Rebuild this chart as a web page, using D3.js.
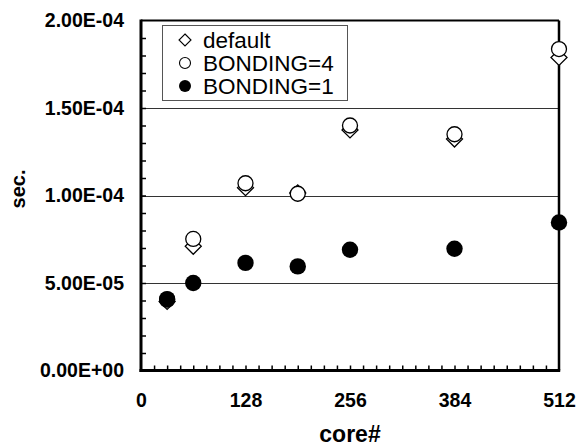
<!DOCTYPE html>
<html>
<head>
<meta charset="utf-8">
<script src="https://cdn.jsdelivr.net/npm/d3@7"></script>
<style>
  body { margin: 0; background: #fff; }
  svg { display: block; font-family: "Liberation Sans", Arial, sans-serif; }
</style>
</head>
<body>
<div class="chart"></div>
<script>
// data
const cores = [32, 64, 128, 192, 256, 384, 512];
const defaultTime = [3.95e-5, 7.1e-5, 1.045e-4, 1.015e-4, 1.375e-4, 1.323e-4, 1.789e-4];
const bonding4Time = [4.05e-5, 7.52e-5, 1.07e-4, 1.01e-4, 1.40e-4, 1.35e-4, 1.837e-4];
const bonding1Time = [4.08e-5, 5.0e-5, 6.15e-5, 5.95e-5, 6.9e-5, 6.96e-5, 8.46e-5];
const xTicks = [0, 128, 256, 384, 512];
const yTicks = [0, 5e-5, 1e-4, 1.5e-4, 2e-4];
const yTickLabels = ["0.00E+00", "5.00E-05", "1.00E-04", "1.50E-04", "2.00E-04"];
const seriesNames = ["default", "BONDING=4", "BONDING=1"];

const width = 579,
  height = 446;
const plotLeft = 141,
  plotRight = 559,
  plotTop = 20.5,
  plotBottom = 370.5;

const svg = d3
  .select(".chart")
  .append("svg")
  .attr("width", width)
  .attr("height", height);

const x = d3.scaleLinear().domain([0, 512]).range([plotLeft, plotRight]);
const y = d3.scaleLinear().domain([0, 2e-4]).range([plotBottom, plotTop]);

// gridlines
svg
  .append("g")
  .selectAll("line")
  .data(yTicks.slice(1, 4))
  .enter()
  .append("line")
  .attr("x1", plotLeft)
  .attr("x2", plotRight)
  .attr("y1", (d) => Math.round(y(d)) + 0.5)
  .attr("y2", (d) => Math.round(y(d)) + 0.5)
  .attr("stroke", "#333")
  .attr("stroke-width", 1);

// top and right border
svg
  .append("line")
  .attr("x1", plotLeft)
  .attr("x2", plotRight)
  .attr("y1", y(2e-4))
  .attr("y2", y(2e-4))
  .attr("stroke", "#000")
  .attr("stroke-width", 2);
svg
  .append("line")
  .attr("x1", x(512))
  .attr("x2", x(512))
  .attr("y1", plotTop)
  .attr("y2", plotBottom)
  .attr("stroke", "#000")
  .attr("stroke-width", 2.5);

// minor ticks (inward)
const xMinor = d3.range(16, 512, 16);
const yMinor = d3.range(1, 20).map((i) => i * 1e-5);

const xMinorAxis = d3.axisBottom(x).tickValues(xMinor).tickSize(-5).tickSizeOuter(0).tickFormat("");
svg
  .append("g")
  .attr("transform", `translate(0,${plotBottom})`)
  .call(xMinorAxis)
  .call((g) => g.selectAll(".tick line").attr("stroke-width", 1.5));

const yMinorAxis = d3.axisLeft(y).tickValues(yMinor).tickSize(-5).tickSizeOuter(0).tickFormat("");
svg
  .append("g")
  .attr("transform", `translate(${plotLeft},0)`)
  .call(yMinorAxis)
  .call((g) => g.selectAll(".tick line").attr("stroke-width", 1.5));

// thick axis lines
svg.selectAll(".domain").remove();
svg
  .append("line")
  .attr("x1", plotLeft)
  .attr("x2", plotLeft)
  .attr("y1", plotTop - 1)
  .attr("y2", plotBottom + 1.5)
  .attr("stroke", "#000")
  .attr("stroke-width", 3);
svg
  .append("line")
  .attr("x1", plotLeft - 1.5)
  .attr("x2", plotRight + 1.2)
  .attr("y1", plotBottom)
  .attr("y2", plotBottom)
  .attr("stroke", "#000")
  .attr("stroke-width", 3);

// tick labels
const xAxis = d3.axisBottom(x).tickValues(xTicks).tickSize(0).tickPadding(23);
svg
  .append("g")
  .attr("transform", `translate(0,${plotBottom})`)
  .call(xAxis)
  .call((g) => g.select(".domain").remove())
  .selectAll("text")
  .attr("font-family", "Liberation Sans, Arial, sans-serif")
  .attr("font-size", 19.5)
  .attr("font-weight", "bold")
  .attr("fill", "#000");

const yAxis = d3
  .axisLeft(y)
  .tickValues(yTicks)
  .tickSize(0)
  .tickPadding(17)
  .tickFormat((d, i) => yTickLabels[i]);
svg
  .append("g")
  .attr("transform", `translate(${plotLeft},0)`)
  .call(yAxis)
  .call((g) => g.select(".domain").remove())
  .selectAll("text")
  .attr("font-family", "Liberation Sans, Arial, sans-serif")
  .attr("font-size", 19.5)
  .attr("font-weight", "bold")
  .attr("fill", "#000");

// axis titles
svg
  .append("text")
  .attr("transform", "translate(25,189) rotate(-90)")
  .attr("text-anchor", "middle")
  .attr("font-size", 20)
  .attr("font-weight", "bold")
  .text("sec.");
svg
  .append("text")
  .attr("x", (plotLeft + plotRight) / 2)
  .attr("y", 442)
  .attr("text-anchor", "middle")
  .attr("font-size", 23)
  .attr("font-weight", "bold")
  .text("core#");

// markers
const diamond = (s) => `M0,${-s}L${s},0L0,${s}L${-s},0Z`;

svg
  .append("g")
  .selectAll("path")
  .data(defaultTime)
  .enter()
  .append("path")
  .attr("d", diamond(8))
  .attr("transform", (d, i) => `translate(${x(cores[i])},${y(d)})`)
  .attr("fill", "#fff")
  .attr("stroke", "#000")
  .attr("stroke-width", 1.3);

svg
  .append("g")
  .selectAll("circle")
  .data(bonding4Time)
  .enter()
  .append("circle")
  .attr("cx", (d, i) => x(cores[i]))
  .attr("cy", (d) => y(d))
  .attr("r", 7.5)
  .attr("fill", "#fff")
  .attr("stroke", "#000")
  .attr("stroke-width", 1.3);

svg
  .append("g")
  .selectAll("circle")
  .data(bonding1Time)
  .enter()
  .append("circle")
  .attr("cx", (d, i) => x(cores[i]))
  .attr("cy", (d) => y(d))
  .attr("r", 8.2)
  .attr("fill", "#000");

// legend
const legend = svg.append("g");
legend
  .append("rect")
  .attr("x", 162.5)
  .attr("y", 25.5)
  .attr("width", 185)
  .attr("height", 75)
  .attr("fill", "#fff")
  .attr("stroke", "#555")
  .attr("stroke-width", 1);

const rows = [40, 63, 86];
legend
  .append("path")
  .attr("d", diamond(6))
  .attr("transform", `translate(185,${rows[0]})`)
  .attr("fill", "#fff")
  .attr("stroke", "#000")
  .attr("stroke-width", 1.1);
legend
  .append("circle")
  .attr("cx", 185)
  .attr("cy", rows[1])
  .attr("r", 5.5)
  .attr("fill", "#fff")
  .attr("stroke", "#000")
  .attr("stroke-width", 1.1);
legend
  .append("circle")
  .attr("cx", 185)
  .attr("cy", rows[2])
  .attr("r", 6)
  .attr("fill", "#000");

legend
  .selectAll("text")
  .data(seriesNames)
  .enter()
  .append("text")
  .attr("x", 203)
  .attr("y", (d, i) => rows[i])
  .attr("dy", "0.36em")
  .attr("font-size", 22.5)
  .text((d) => d);
</script>
</body>
</html>
